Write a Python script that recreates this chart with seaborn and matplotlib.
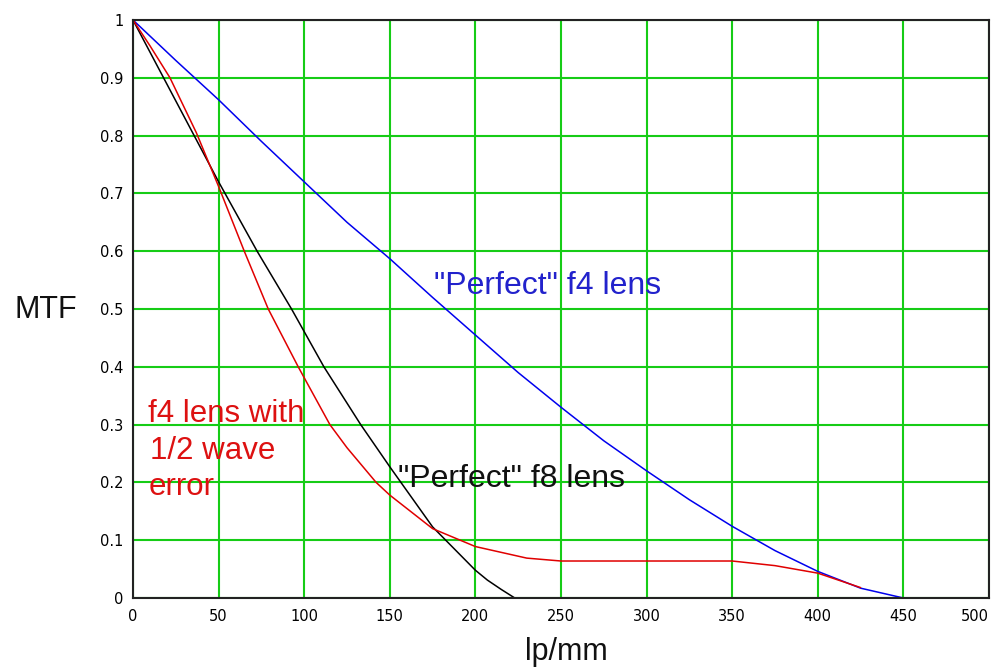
import matplotlib
matplotlib.use("Agg")
import matplotlib.pyplot as plt
import pandas as pd
import seaborn as sns

# Values (spatial frequency in lp/mm, MTF)
f4_x = [0, 25, 50, 75, 100, 125, 150, 175, 200, 225, 250, 275, 300, 325, 350, 375, 400, 425, 450]
f4_mtf = [1.0, 0.93, 0.862, 0.79, 0.72, 0.65, 0.587, 0.52, 0.455, 0.39, 0.33, 0.272, 0.22, 0.17,
          0.124, 0.082, 0.046, 0.017, 0.0]

f8_x = [0, 25, 50, 72.5, 92.6, 111.5, 133, 150, 175, 200, 207, 215, 223]
f8_mtf = [1.0, 0.86, 0.72, 0.6, 0.5, 0.4, 0.30, 0.227, 0.123, 0.048, 0.031, 0.015, 0.0]

err_x = [0, 10, 21.6, 37, 50, 65, 79, 96.5, 115, 125, 142, 150, 175, 200, 230, 250, 300, 350,
         375, 400, 425]
err_mtf = [1.0, 0.955, 0.90, 0.805, 0.712, 0.6, 0.5, 0.4, 0.30, 0.26, 0.20, 0.178, 0.12, 0.089,
           0.069, 0.064, 0.064, 0.064, 0.056, 0.043, 0.018]

x_ticks = list(range(0, 501, 50))
y_ticks = [i / 10 for i in range(11)]
y_tick_labels = ["0", "0.1", "0.2", "0.3", "0.4", "0.5", "0.6", "0.7", "0.8", "0.9", "1"]

df_f4 = pd.DataFrame({"lp": f4_x, "MTF": f4_mtf})
df_f8 = pd.DataFrame({"lp": f8_x, "MTF": f8_mtf})
df_err = pd.DataFrame({"lp": err_x, "MTF": err_mtf})

sns.set_style("white")
plt.rcParams["font.family"] = ["Liberation Sans", "DejaVu Sans"]

fig = plt.figure(figsize=(9.92, 6.68), dpi=100)
ax = fig.add_axes([133 / 992, 70 / 668, 856 / 992, 578 / 668])

# grid first so the curves sit on top
ax.set_xticks(x_ticks)
ax.set_yticks(y_ticks)
ax.set_yticklabels(y_tick_labels)
ax.grid(True, color="#16cc16", linewidth=1.5)
ax.set_axisbelow(True)

sns.lineplot(data=df_f4, x="lp", y="MTF", color="#0000ee", linewidth=1.1, ax=ax, sort=False)
sns.lineplot(data=df_f8, x="lp", y="MTF", color="black", linewidth=1.1, ax=ax, sort=False)
sns.lineplot(data=df_err, x="lp", y="MTF", color="#e00000", linewidth=1.1, ax=ax, sort=False)

ax.set_xlim(0, 500)
ax.set_ylim(0, 1)

for s in ax.spines.values():
    s.set_color("#222222")
    s.set_linewidth(1.5)

ax.tick_params(axis="both", length=0, labelsize=10.5, colors="black")
ax.tick_params(axis="y", pad=7)
ax.tick_params(axis="x", pad=8)
for lab in ax.get_xticklabels() + ax.get_yticklabels():
    lab.set_fontfamily("DejaVu Sans")
# last x label sits inside the frame, as in the reference
ax.get_xticklabels()[-1].set_horizontalalignment("right")

ax.set_ylabel("MTF", rotation=0, fontsize=22, va="center", ha="center", color="#111111")
ax.yaxis.set_label_coords(-0.102, 0.498)
ax.set_xlabel("lp/mm", fontsize=22, va="center", ha="center", color="#111111")
ax.xaxis.set_label_coords(0.506, -0.093)

ax.text(176, 0.54, '"Perfect" f4 lens', color="#2222cc", fontsize=23, va="center", ha="left")
ax.text(155, 0.206, '"Perfect" f8 lens', color="#111111", fontsize=23, va="center", ha="left")
ax.text(9, 0.318, "f4 lens with", color="#dd1111", fontsize=22.5, va="center", ha="left")
ax.text(10, 0.255, "1/2 wave", color="#dd1111", fontsize=22.5, va="center", ha="left")
ax.text(9, 0.192, "error", color="#dd1111", fontsize=22.5, va="center", ha="left")

fig.savefig("out.png", dpi=100)
